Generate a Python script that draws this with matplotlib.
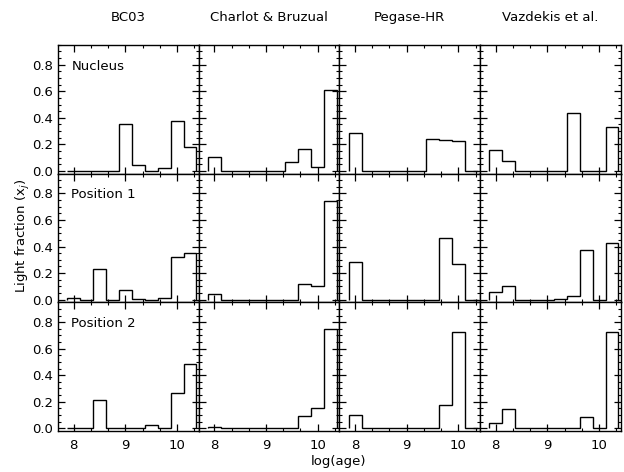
import matplotlib
matplotlib.use('Agg')
import matplotlib.pyplot as plt
import numpy as np
from matplotlib.ticker import MultipleLocator

plt.rcParams['font.family'] = ['DejaVu Sans']

# log(age) bin centres and the light fractions x_j per model / position
log_age = [8.0, 8.25, 8.5, 8.75, 9.0, 9.25, 9.5, 9.75, 10.0, 10.25]
bin_width = 0.2465

models = ['BC03', 'Charlot & Bruzual', 'Pegase-HR', 'Vazdekis et al.']
positions = ['Nucleus', 'Position 1', 'Position 2']

# Nucleus
bc03_nuc = [0, 0, 0, 0, 0.352, 0.045, 0, 0.02, 0.377, 0.18]
cb_nuc = [0.103, 0, 0, 0, 0, 0, 0.065, 0.163, 0.03, 0.606]
peg_nuc = [0.287, 0, 0, 0, 0, 0, 0.242, 0.231, 0.226, 0]
vaz_nuc = [0.158, 0.073, 0, 0, 0, 0, 0.433, 0, 0, 0.33]

# Position 1
bc03_p1 = [0.015, 0, 0.227, 0, 0.072, 0.005, 0, 0.015, 0.318, 0.348]
cb_p1 = [0.045, 0, 0, 0, 0, 0, 0, 0.114, 0.104, 0.74]
peg_p1 = [0.28, 0, 0, 0, 0, 0, 0, 0.462, 0.265, 0]
vaz_p1 = [0.055, 0.104, 0, 0, 0, 0.008, 0.03, 0.37, 0, 0.43]

# Position 2
bc03_p2 = [0, 0, 0.216, 0, 0.005, 0, 0.028, 0, 0.267, 0.486]
cb_p2 = [0.01, 0, 0, 0, 0, 0, 0, 0.09, 0.153, 0.745]
peg_p2 = [0.103, 0, 0, 0, 0, 0, 0, 0.176, 0.727, 0]
vaz_p2 = [0.043, 0.148, 0, 0, 0, 0, 0, 0.085, 0, 0.722]

data = [
    [bc03_nuc, cb_nuc, peg_nuc, vaz_nuc],
    [bc03_p1, cb_p1, peg_p1, vaz_p1],
    [bc03_p2, cb_p2, peg_p2, vaz_p2],
]

centers = np.array(log_age)
edges = np.append(centers - bin_width / 2, centers[-1] + bin_width / 2)

fig, axes = plt.subplots(3, 4, figsize=(6.24, 4.72), dpi=100, sharex=True, sharey=True)
fig.subplots_adjust(left=0.093, right=0.995, top=0.905, bottom=0.087, wspace=0, hspace=0)

fs = 9.5
for i in range(3):
    for j in range(4):
        ax = axes[i, j]
        ax.stairs(data[i][j], edges, color='black', lw=1.0)
        ax.set_xlim(7.7, 10.42)
        ax.set_ylim(-0.02, 0.95)
        ax.xaxis.set_major_locator(MultipleLocator(1))
        ax.xaxis.set_minor_locator(MultipleLocator(1 / 3))
        ax.yaxis.set_major_locator(MultipleLocator(0.2))
        ax.yaxis.set_minor_locator(MultipleLocator(0.05))
        ax.tick_params(which='both', direction='in', top=True, right=True, labelsize=fs)
        ax.tick_params(which='major', length=5, width=0.9)
        ax.tick_params(which='minor', length=2.5, width=0.8)
        for s in ax.spines.values():
            s.set_linewidth(1.0)
        if j == 0:
            ax.yaxis.set_major_formatter(plt.FuncFormatter(lambda v, p: '%.1f' % v))
            ax.text(7.96, 0.79, positions[i], fontsize=fs, va='center', ha='left')
        if i == 0:
            ax.text(0.5, 1.21, models[j], transform=ax.transAxes, ha='center', va='center', fontsize=fs)
        if i == 2:
            ax.tick_params(axis='x', pad=6)

fig.text(0.037, 0.5, 'Light fraction (x$_j$)', rotation=90, ha='center', va='center', fontsize=fs)
fig.text(0.543, 0.022, 'log(age)', ha='center', va='center', fontsize=fs)

fig.savefig('out.png', dpi=100)
